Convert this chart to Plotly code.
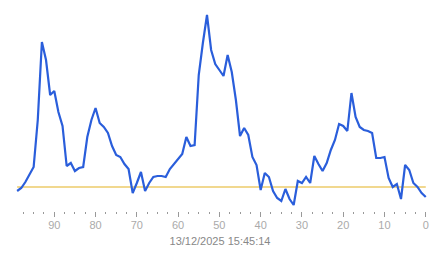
import plotly.graph_objects as go

# x positions (samples ago), 99 down to 0
x_vals = list(range(99, -1, -1))
# series values (arbitrary units)
y_vals = [20, 23, 29, 36, 44, 91, 169, 151, 116, 120,
          99, 85, 45, 48, 40, 43, 44, 74, 91, 103,
          88, 84, 78, 65, 56, 54, 47, 42, 18, 28,
          39, 20, 28, 34, 35, 35, 34, 42, 47, 52,
          57, 74, 65, 66, 136, 168, 196, 161, 147, 141,
          135, 156, 139, 111, 75, 83, 76, 54, 46, 21,
          38, 34, 20, 13, 10, 22, 12, 6, 30, 28,
          34, 28, 55, 47, 40, 48, 61, 71, 87, 85,
          80, 118, 94, 84, 81, 80, 78, 53, 53, 54,
          33, 24, 27, 12, 46, 41, 28, 24, 18, 14]
threshold = 24
threshold_x = [99, 0]

major_ticks = [90, 80, 70, 60, 50, 40, 30, 20, 10, 0]
minor_ticks = [97.5, 95, 92.5, 87.5, 85, 82.5, 77.5, 75, 72.5, 67.5, 65, 62.5,
               57.5, 55, 52.5, 47.5, 45, 42.5, 37.5, 35, 32.5, 27.5, 25, 22.5,
               17.5, 15, 12.5, 7.5, 5, 2.5]
x_title = "13/12/2025 15:45:14"

fig = go.Figure()
fig.add_trace(go.Scatter(x=threshold_x, y=[threshold] * len(threshold_x), mode="lines",
                         line=dict(color="#EDCB6A", width=1.3), hoverinfo="skip"))
fig.add_trace(go.Scatter(x=x_vals, y=y_vals, mode="lines",
                         line=dict(color="#2A5EDB", width=2.2)))

fig.update_layout(
    width=443, height=258,
    margin=dict(l=13, r=16, t=11, b=47),
    paper_bgcolor="white", plot_bgcolor="white",
    showlegend=False,
    font=dict(family="Liberation Sans, Arial, sans-serif", size=11, color="#aaaaaa"),
    xaxis=dict(
        range=[100, -0.3],
        showgrid=False, zeroline=False, showline=False,
        tickmode="array", tickvals=major_ticks, ticktext=[str(v) for v in major_ticks],
        ticks="outside", ticklen=5, tickwidth=1, tickcolor="#999999",
        tickfont=dict(size=11, color="#aaaaaa"),
        ticklabelstandoff=-1,
        minor=dict(tickmode="array", tickvals=minor_ticks, ticks="outside",
                   ticklen=2, tickwidth=1, tickcolor="#999999"),
        title=dict(text=x_title, font=dict(size=11, color="#888888"), standoff=7),
    ),
    yaxis=dict(range=[0, 200], visible=False, showgrid=False, zeroline=False),
)

fig.write_html("out.html")
